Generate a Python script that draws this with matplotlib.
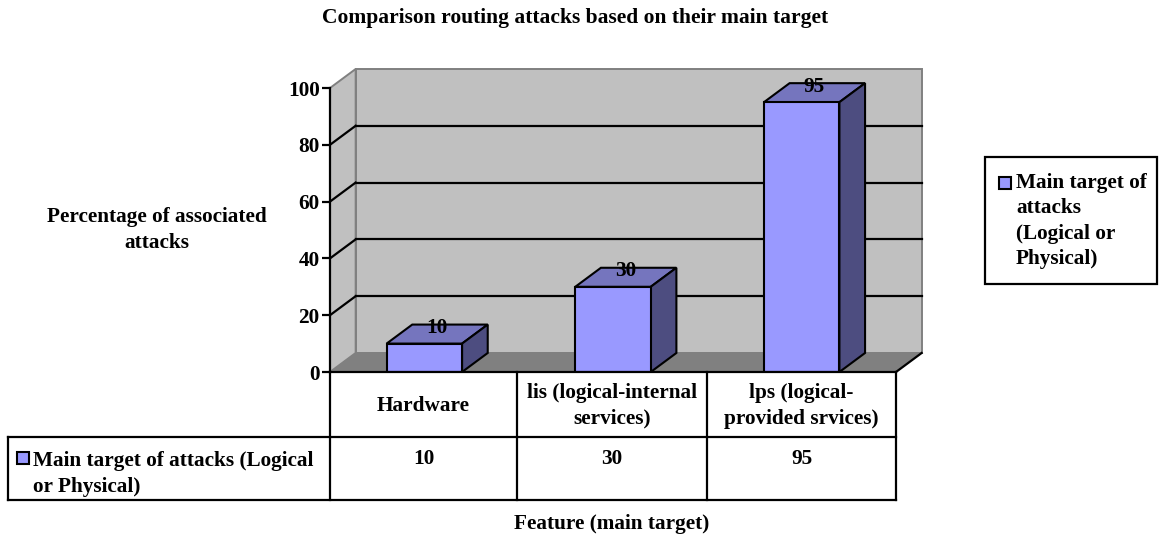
import matplotlib
matplotlib.use("Agg")
import matplotlib.pyplot as plt
from matplotlib.patches import Polygon, Rectangle
from matplotlib.lines import Line2D

# ---- data ----
categories = ["Hardware", "lis (logical-internal\nservices)", "lps (logical-\nprovided srvices)"]
values = [10, 30, 95]
series_name = "Main target of attacks (Logical or Physical)"
yticks = [0, 20, 40, 60, 80, 100]
title = "Comparison routing attacks based on their main target"
ylabel = "Percentage of associated\nattacks"
xlabel = "Feature (main target)"

# ---- style ----
W, H = 1163, 538
plt.rcParams["font.family"] = ["Liberation Serif", "DejaVu Serif"]
plt.rcParams["font.weight"] = "bold"
FS = 15.3
FRONT = "#9999FF"
TOP = "#7575BE"
SIDE = "#4D4D80"
WALL = "#C0C0C0"
FLOOR = "#808080"
DX, DY = 0.136, 6.7      # depth offset of the 3-D box (x in categories, y in value units)
BW = 0.4                 # bar width in category units

fig = plt.figure(figsize=(W / 100, H / 100), dpi=100)
fig.patch.set_facecolor("white")


def fx(px):
    return px / W


def fy(py):
    return 1 - py / H


# main plotting axes: front plane of the 3-D box
ax = fig.add_axes([fx(330), fy(372), (896 - 330) / W, (372 - 88) / H])
ax.set_xlim(0, 3)
ax.set_ylim(0, 100)
ax.patch.set_visible(False)
for s in ("top", "right", "bottom"):
    ax.spines[s].set_visible(False)
ax.spines["left"].set_linewidth(1.6)
ax.spines["left"].set_zorder(10)
ax.set_xticks([])
ax.set_yticks(yticks)
ax.set_yticklabels([str(t) for t in yticks], fontsize=FS, fontweight="bold")
ax.tick_params(axis="y", direction="out", length=6, width=1.6, pad=1.5)

n = len(categories)
# back wall, side wall and floor
ax.add_patch(Polygon([(DX, DY), (n + DX, DY), (n + DX, 100 + DY), (DX, 100 + DY)],
                     closed=True, facecolor=WALL, edgecolor=FLOOR, lw=1.4, clip_on=False, zorder=1))
ax.add_patch(Polygon([(0, 0), (DX, DY), (DX, 100 + DY), (0, 100)],
                     closed=True, facecolor=WALL, edgecolor=FLOOR, lw=1.4, clip_on=False, zorder=1))
ax.add_patch(Polygon([(0, 0), (n, 0), (n + DX, DY), (DX, DY)],
                     closed=True, facecolor=FLOOR, edgecolor="none", clip_on=False, zorder=1.5))

# gridlines on the back and side walls
for t in yticks[1:-1]:
    ax.add_line(Line2D([DX, n + DX], [t + DY, t + DY], color="black", lw=1.6, zorder=2, clip_on=False))
    ax.add_line(Line2D([0, DX], [t, t + DY], color="black", lw=1.6, zorder=2, clip_on=False))

# floor outline
ax.add_line(Line2D([0, n], [0, 0], color="black", lw=1.6, zorder=9, clip_on=False))
ax.add_line(Line2D([n, n + DX], [0, DY], color="black", lw=1.6, zorder=9, clip_on=False))

# bars
xs = [i + 0.5 for i in range(n)]
ax.bar(xs, values, width=BW, color=FRONT, edgecolor="black", linewidth=1.5, zorder=5)
for x, v in zip(xs, values):
    l, r = x - BW / 2, x + BW / 2
    ax.add_patch(Polygon([(l, v), (r, v), (r + DX, v + DY), (l + DX, v + DY)], closed=True,
                         facecolor=TOP, edgecolor="black", lw=1.5, zorder=4, clip_on=False))
    ax.add_patch(Polygon([(r, 0), (r + DX, DY), (r + DX, v + DY), (r, v)], closed=True,
                         facecolor=SIDE, edgecolor="black", lw=1.5, zorder=4, clip_on=False))
    ax.text(x + DX / 2, v + DY - 1.3, str(v), ha="center", va="center",
            fontsize=FS, fontweight="bold", zorder=6, clip_on=False)

# overlay in pixel coordinates for table, legend and titles
ov = fig.add_axes([0, 0, 1, 1])
ov.set_xlim(0, W)
ov.set_ylim(H, 0)
ov.axis("off")
ov.patch.set_visible(False)

# data table
col_x = [330, 517, 707, 896]
lk = dict(color="black", lw=1.6, solid_capstyle="projecting")
ov.plot([8, 896], [437, 437], **lk)
ov.plot([8, 896], [500, 500], **lk)
ov.plot([8, 8], [437, 500], **lk)
for cx in col_x:
    ov.plot([cx, cx], [372, 500], **lk)
for i, (cat, v) in enumerate(zip(categories, values)):
    cx = (col_x[i] + col_x[i + 1]) / 2
    ov.text(cx, 406, cat, ha="center", va="center", fontsize=FS, fontweight="bold", linespacing=1.38)
    ov.text(cx, 459, str(v), ha="center", va="center", fontsize=FS, fontweight="bold")
ov.add_patch(Rectangle((17, 452), 12, 12, facecolor=FRONT, edgecolor="black", lw=1.5))
ov.text(33, 474, "Main target of attacks (Logical\nor Physical)", ha="left", va="center",
        fontsize=FS, fontweight="bold", linespacing=1.42)

# legend box
ov.add_patch(Rectangle((985, 157), 172, 127, facecolor="white", edgecolor="black", lw=1.6))
ov.add_patch(Rectangle((999, 177), 12, 12, facecolor=FRONT, edgecolor="black", lw=1.5))
ov.text(1016, 221, "Main target of\nattacks\n(Logical or\nPhysical)", ha="left", va="center",
        fontsize=FS, fontweight="bold", linespacing=1.36)

# titles
ov.text(575, 18, title, ha="center", va="center", fontsize=15.5, fontweight="bold")
ov.text(157, 230, ylabel, ha="center", va="center", fontsize=FS, fontweight="bold", linespacing=1.38)
ov.text(612, 524, xlabel, ha="center", va="center", fontsize=FS, fontweight="bold")

fig.savefig("out.png", dpi=100)
